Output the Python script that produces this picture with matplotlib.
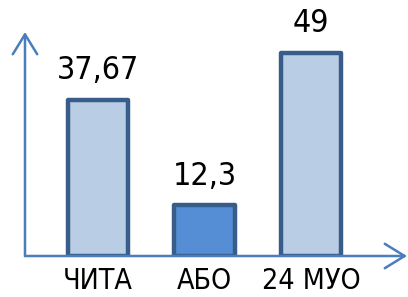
import numpy as np
import matplotlib.pyplot as plt

categories = ['ЧИТА', 'АБО', '24 МУО']
values = [37.67, 12.3, 49]
value_labels = ['37,67', '12,3', '49']
fills = ['#B9CDE5', '#558ED5', '#B9CDE5']

plt.rcParams['font.family'] = ['DejaVu Sans']
plt.rcParams['font.stretch'] = 'condensed'

fig = plt.figure(figsize=(4.08, 2.97), dpi=100)
ax = fig.add_axes([25 / 408, 41 / 297, 382 / 408, 224 / 297])

x = np.arange(len(categories))
bars = ax.bar(x, values, width=0.57, color=fills, edgecolor='#385D8A',
              linewidth=3.2, zorder=3)
for b in bars:
    b.set_joinstyle('round')

for xi, v, lab in zip(x, values, value_labels):
    ax.text(xi, v + 3.2, lab, ha='center', va='bottom', fontsize=23,
            color='black', fontstretch='condensed')

ax.set_xlim(-0.685, 2.9)
ax.set_ylim(0, 54)
ax.set_xticks(x, categories)
ax.tick_params(axis='x', length=0, pad=8, labelsize=20.5)
ax.set_yticks([])
for s in ax.spines.values():
    s.set_visible(False)

axis_col = '#4A7EBB'
arrow = dict(arrowstyle='->,head_length=0.65,head_width=0.4', color=axis_col,
             lw=1.8, mutation_scale=22, shrinkA=0, shrinkB=0)
ax.annotate('', xy=(0, 1), xytext=(0, 0), xycoords='axes fraction',
            arrowprops=arrow, annotation_clip=False)
ax.annotate('', xy=(1, 0), xytext=(0, 0), xycoords='axes fraction',
            arrowprops=arrow, annotation_clip=False)

fig.savefig('out.png', dpi=100)
